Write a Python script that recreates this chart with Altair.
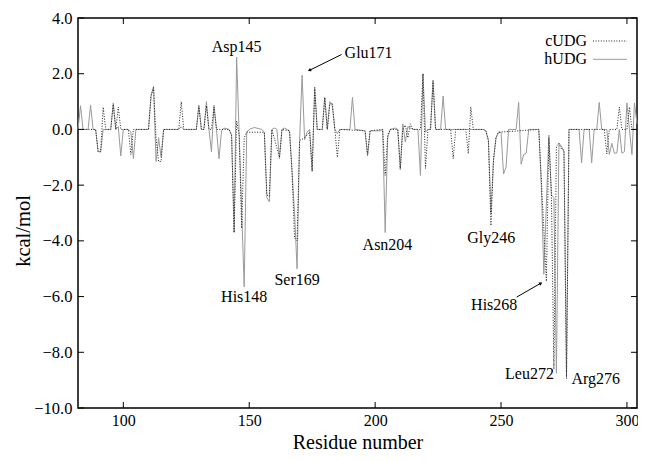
import altair as alt
import pandas as pd

# ---------------- data ----------------
h_res = [82, 83, 84, 86, 87, 88, 89, 90, 91, 92, 95, 96, 97, 98, 99, 100, 102, 103, 104, 105,
         110, 111, 112, 113, 114, 115, 116, 122, 123, 124, 129, 130, 131, 132, 133, 134, 135, 136,
         137, 138, 139, 140, 142, 143, 144, 145, 148, 149, 150, 152, 155, 156, 157, 158, 159, 160,
         161, 162, 163, 164, 165, 166, 167, 168, 169, 170, 171, 172, 173, 174, 175, 176, 177, 179,
         180, 181, 182, 183, 184, 185, 186, 190, 191, 192, 196, 197, 198, 202, 203, 204, 205, 206,
         208, 209, 210, 211, 212, 213, 214, 215, 217, 218, 219, 220, 221, 222, 223, 224, 226, 227,
         228, 243, 244, 245, 246, 247, 248, 249, 250, 251, 252, 253, 256, 257, 258, 259, 260, 261,
         265, 266, 267, 269, 270, 271, 272, 273, 274, 275, 276, 277, 281, 282, 283, 285, 286, 287,
         288, 289, 290, 292, 293, 294, 295, 296, 297, 298, 299, 300, 301, 302, 303, 304]
h_val = [0.0, 0.85, 0.0, 0.0, 0.87, 0.0, 0.0, -0.8, -0.8, 0.0, 0.0, 0.95, 0.0, 0.1, -0.95, 0.0, 0.0, -0.1, -1.05, 0.0,
         0.0, 1.2, 1.55, -1.15, -0.3, -1.0, 0.0, 0.0, 0.1, 0.0, 0.0, 0.85, 0.0, 0.0, 1.0, 0.0, -0.8, 0.87,
         0.0, -1.05, -0.05, 0.05, 0.0, -0.2, -3.7, 2.6, -5.65, -0.1, 0.0, 0.07, 0.0, -0.1, -2.45, -2.6, 0.0, 0.05,
         0.0, -1.05, 0.0, 0.05, 0.0, -0.05, -1.5, -3.0, -5.0, -0.4, 1.95, -0.37, -0.1, 0.0, -1.5, 1.5, 0.0, 0.0,
         1.15, 0.0, 1.0, 0.85, 0.0, -0.15, 0.0, 0.0, 1.15, 0.0, -0.05, -0.95, -0.05, -0.05, 0.0, -3.7, -0.3, 0.0,
         0.05, 0.0, -1.45, 0.2, -0.45, 0.1, 0.05, 0.0, 0.0, -1.65, 2.0, -0.1, 0.0, 0.0, 1.75, 0.0, 0.0, 1.2,
         0.0, 0.0, -0.05, -0.4, -3.0, -1.1, -0.3, -0.1, -0.1, -1.6, -1.35, 0.0, 0.0, 0.97, -1.25, -0.9, -0.85, 0.0,
         0.0, -2.0, -5.2, -0.2, -2.35, -2.45, -8.75, -0.5, -0.6, -0.8, -8.85, 0.0, 0.0, -1.2, 0.0, 0.0, -1.2, 0.0,
         0.0, 0.97, 0.0, 0.0, -0.9, -0.5, -0.85, -0.85, 0.0, -0.85, -0.8, 0.95, 0.0, -0.9, 0.95, 0.2]

c_res = [82, 86, 89, 90, 91, 92, 93, 95, 96, 97, 98, 99, 102, 103, 104, 110, 111, 112, 113, 114,
         115, 116, 122, 123, 124, 129, 130, 131, 132, 133, 134, 135, 136, 137, 142, 143, 144, 145, 146, 147,
         148, 149, 156, 157, 158, 159, 162, 163, 166, 167, 168, 169, 170, 171, 172, 173, 174, 175, 176, 177,
         179, 180, 181, 182, 183, 184, 185, 186, 196, 197, 198, 203, 204, 205, 206, 209, 210, 211, 212, 213,
         214, 215, 218, 219, 220, 221, 222, 223, 224, 230, 231, 232, 236, 237, 238, 239, 243, 244, 245, 246,
         247, 248, 249, 265, 266, 267, 268, 269, 270, 271, 272, 273, 274, 275, 276, 277, 291, 292, 293, 296,
         297, 298, 300, 301, 302, 304]
c_val = [0.0, 0.0, 0.0, -0.8, -0.8, 0.8, 0.0, 0.0, 0.9, 0.0, 0.8, 0.0, 0.0, -0.9, 0.0, 0.0, 1.2, 1.5, -0.3, -1.15,
         -1.15, 0.0, 0.0, 1.0, 0.0, 0.0, 0.85, 0.0, 0.0, 0.85, 0.0, 0.0, 0.8, 0.0, 0.0, -0.2, -3.7, 0.3, -0.2, -3.55,
         -0.3, -0.1, -0.1, -2.35, -2.4, 0.0, -1.0, 0.0, -0.05, -1.5, -3.9, -4.0, -0.4, -0.35, -0.3, -0.2, -0.1, -1.5, 1.5, 0.0,
         0.0, 1.15, 0.0, 0.9, 0.95, 0.0, -1.0, 0.0, -0.05, -0.9, -0.05, 0.0, -1.65, -0.2, 0.0, 0.0, -1.4, 0.0, 0.15, -0.3,
         0.2, 0.0, 0.0, 2.0, -1.4, 0.0, 0.0, 1.75, 0.0, 0.0, -1.05, 0.0, 0.0, -0.87, 0.8, 0.0, 0.0, -0.05, -0.4, -3.45,
         -1.1, -0.3, -0.1, 0.0, -1.8, -3.6, -5.45, -0.3, -2.3, -8.6, -0.6, -0.5, -0.7, -0.75, -8.95, 0.0, 0.0, -0.88, 0.0, 0.0,
         0.8, 0.0, 0.0, 0.8, 0.0, 0.0]

x_ticks = [100, 150, 200, 250, 300]
y_ticks = [-10, -8, -6, -4, -2, 0, 2, 4]

ann_labels = ["Asp145", "His148", "Ser169", "Glu171", "Asn204", "Gly246", "His268", "Leu272", "Arg276"]
ann_x = [145, 148, 169, 197.4, 204.9, 246.1, 247.3, 261.3, 287.6]
ann_y = [2.97, -6.02, -5.4, 2.75, -4.15, -3.89, -6.32, -8.78, -8.96]

arrow_x = [186.7, 256.2]
arrow_y = [2.69, -6.02]
arrow_x2 = [173.9, 265.8]
arrow_y2 = [2.12, -5.52]
arrow_angle = [244, 60]

legend_names = ["cUDG", "hUDG"]
x_title = "Residue number"
y_title = "kcal/mol"

# ---------------- chart ----------------
W, H = 559, 390
FONT = "Liberation Serif"
GRAY = "#9a9a9a"
DOT = [1, 1.6]

xs = alt.Scale(domain=[82, 304], nice=False, zero=False)
ys = alt.Scale(domain=[-10, 4], nice=False, zero=False)

h_df = pd.DataFrame({"residue": h_res, "kcal": h_val})
c_df = pd.DataFrame({"residue": c_res, "kcal": c_val})

x_enc = alt.X("residue:Q", scale=xs,
              axis=alt.Axis(values=x_ticks, title=x_title, labelFontSize=16,
                            labelPadding=4, titleFontSize=20, titleFontWeight="normal",
                            titleBaseline="alphabetic", titleY=40))
y_enc = alt.Y("kcal:Q", scale=ys,
              axis=alt.Axis(values=y_ticks, format=".1f", title=None, labelFontSize=16.5,
                            labelPadding=6))

h_line = alt.Chart(h_df).mark_line(color=GRAY, strokeWidth=1).encode(x=x_enc, y=y_enc)
c_line = alt.Chart(c_df).mark_line(color="#222222", strokeWidth=1, strokeDash=DOT).encode(
    x=alt.X("residue:Q", scale=xs), y=alt.Y("kcal:Q", scale=ys))

# y-axis title as rotated text
ytitle = alt.Chart(pd.DataFrame({"n": [y_title]})).mark_text(
    font=FONT, fontSize=20.5, angle=270, align="center", baseline="alphabetic", color="black").encode(
    text="n:N", x=alt.value(-48), y=alt.value(213))

# inward ticks on all four sides
xt_df = pd.DataFrame({"t": x_ticks})
yt_df = pd.DataFrame({"t": y_ticks})
tick_len = 6
xb = alt.Chart(xt_df).mark_rule(color="black", strokeWidth=1).encode(
    x=alt.X("t:Q", scale=xs), y=alt.value(H), y2=alt.value(H - tick_len))
xtp = alt.Chart(xt_df).mark_rule(color="black", strokeWidth=1).encode(
    x=alt.X("t:Q", scale=xs), y=alt.value(0), y2=alt.value(tick_len))
yl = alt.Chart(yt_df).mark_rule(color="black", strokeWidth=1).encode(
    y=alt.Y("t:Q", scale=ys), x=alt.value(0), x2=alt.value(tick_len))
yr = alt.Chart(yt_df).mark_rule(color="black", strokeWidth=1).encode(
    y=alt.Y("t:Q", scale=ys), x=alt.value(W), x2=alt.value(W - tick_len))

# annotations
ann_df = pd.DataFrame({"label": ann_labels, "ax": ann_x, "ay": ann_y})
ann = alt.Chart(ann_df).mark_text(font=FONT, fontSize=16, align="center", baseline="middle",
                                  color="black").encode(
    x=alt.X("ax:Q", scale=xs), y=alt.Y("ay:Q", scale=ys), text="label:N")

arr_df = pd.DataFrame({"x1": arrow_x, "y1": arrow_y, "x2": arrow_x2, "y2": arrow_y2, "ang": arrow_angle})
arr = alt.Chart(arr_df).mark_rule(color="black", strokeWidth=1).encode(
    x=alt.X("x1:Q", scale=xs), y=alt.Y("y1:Q", scale=ys), x2="x2:Q", y2="y2:Q")
heads = alt.Chart(arr_df).mark_point(shape="triangle-up", filled=True, color="black", size=14,
                                     opacity=1).encode(
    x=alt.X("x2:Q", scale=xs), y=alt.Y("y2:Q", scale=ys), angle=alt.Angle("ang:Q", scale=None))

# legend (gnuplot style: label, then sample)
leg_y = [23, 41.3]
leg_c_txt = alt.Chart(pd.DataFrame({"n": [legend_names[0]]})).mark_text(
    font=FONT, fontSize=16, align="right", baseline="middle", color="black").encode(
    text="n:N", x=alt.value(509), y=alt.value(leg_y[0]))
leg_h_txt = alt.Chart(pd.DataFrame({"n": [legend_names[1]]})).mark_text(
    font=FONT, fontSize=16, align="right", baseline="middle", color="black").encode(
    text="n:N", x=alt.value(509), y=alt.value(leg_y[1]))
leg_c_line = alt.Chart(pd.DataFrame({"n": [legend_names[0]]})).mark_rule(
    color="#222222", strokeWidth=1, strokeDash=DOT).encode(
    x=alt.value(515), x2=alt.value(549), y=alt.value(leg_y[0]))
leg_h_line = alt.Chart(pd.DataFrame({"n": [legend_names[1]]})).mark_rule(
    color=GRAY, strokeWidth=1).encode(
    x=alt.value(515), x2=alt.value(549), y=alt.value(leg_y[1]))

chart = alt.layer(
    h_line, c_line, xb, xtp, yl, yr, arr, heads, ann, ytitle,
    leg_c_txt, leg_h_txt, leg_c_line, leg_h_line
).properties(
    width=W, height=H,
    autosize=alt.AutoSizeParams(type="none"),
    padding={"left": 70, "top": 10, "right": 1, "bottom": 45},
).configure_view(
    stroke="black", strokeWidth=1.5
).configure_axis(
    grid=False, domain=False, ticks=False,
    labelFont=FONT, titleFont=FONT, labelColor="black", titleColor="black"
)

chart.save("out.html", embed_options={"renderer": "svg", "actions": False})
